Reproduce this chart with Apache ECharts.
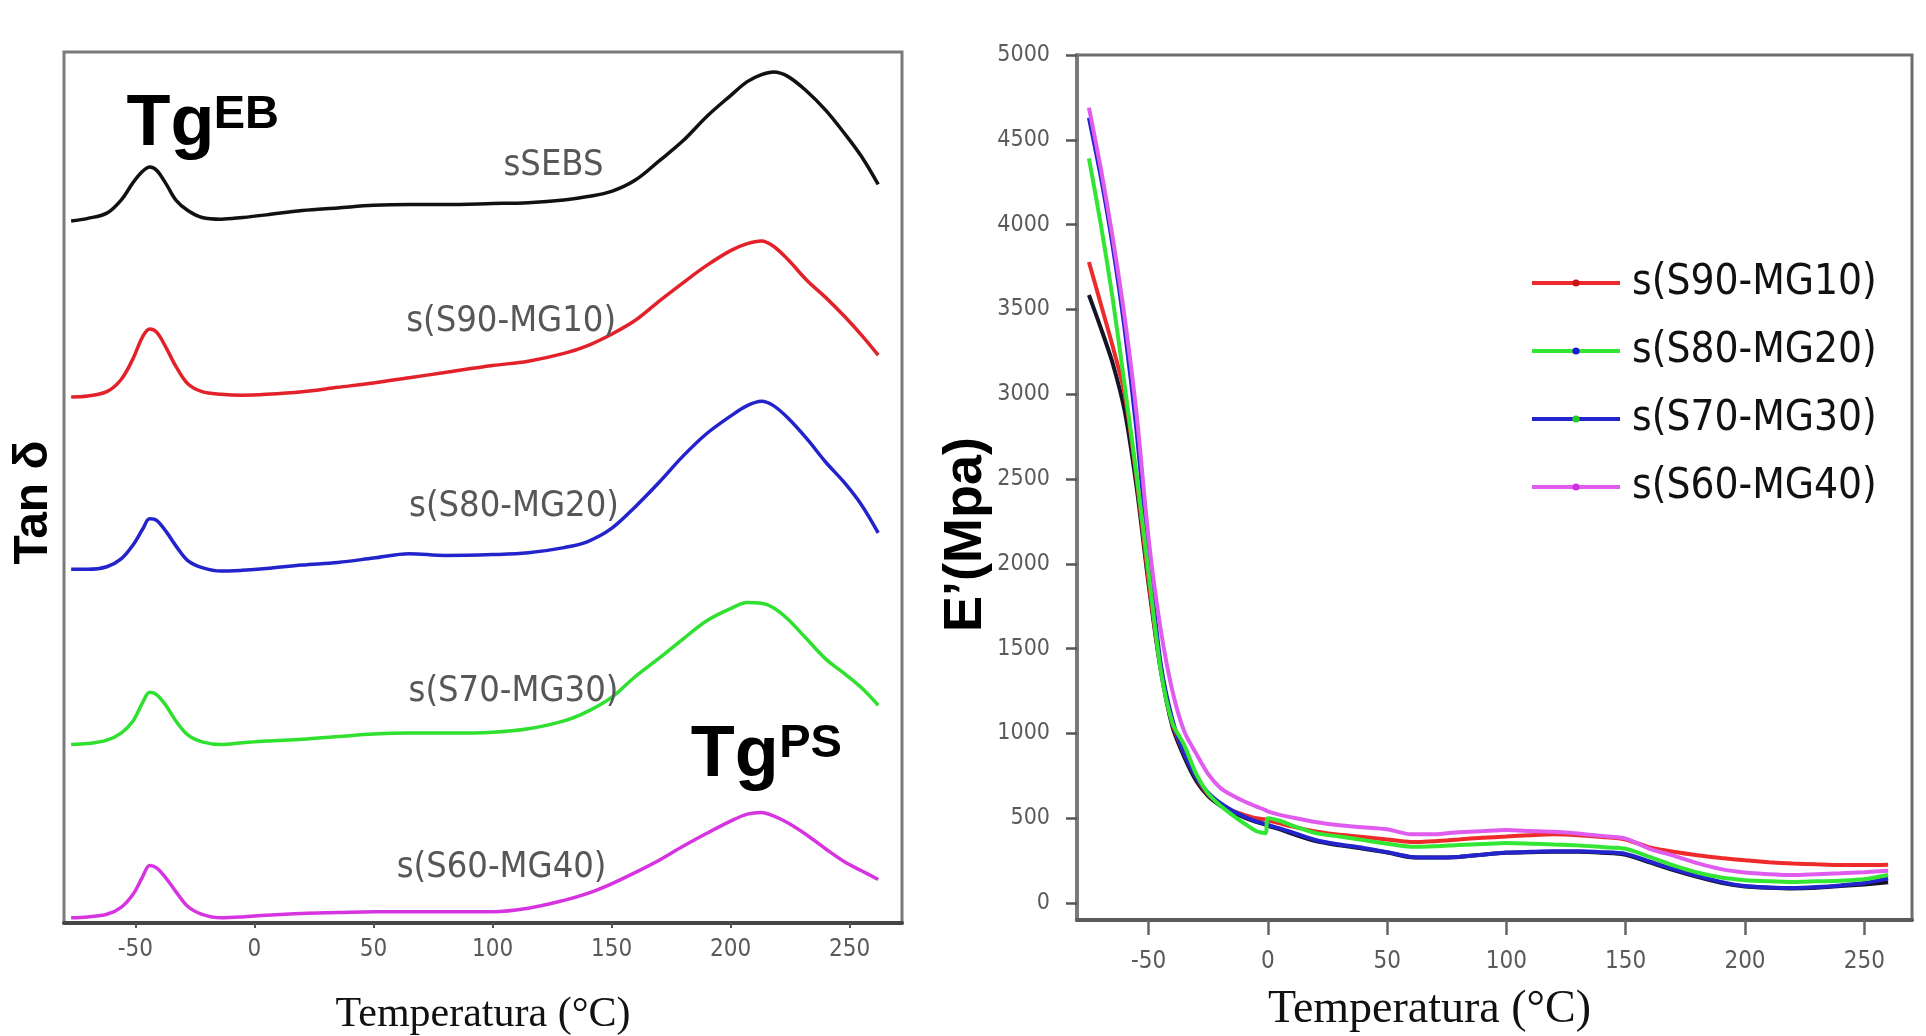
<!DOCTYPE html>
<html>
<head>
<meta charset="utf-8">
<title>Tan δ y E' frente a temperatura</title>
<script src="https://cdn.jsdelivr.net/npm/echarts@6/dist/echarts.min.js"></script>
<style>
  html, body { margin: 0; padding: 0; background: #ffffff; }
  #chart { width: 1926px; height: 1036px; }
</style>
</head>
<body>
<div id="chart"></div>
<script>
// ---------- Tan δ curves (left panel), each shifted up by its own offset ----------
const tanTemps = [-77, -70, -62, -56, -51, -47, -44, -41, -37, -33, -28, -22, -14, -5, 5, 20, 35, 50, 65, 80,
                  100, 115, 130, 140, 150, 160, 170, 180, 190, 200, 207, 213, 218, 224, 232, 240, 248, 255, 262];
const tanNames   = ['sSEBS', 's(S90-MG10)', 's(S80-MG20)', 's(S70-MG30)', 's(S60-MG40)'];
const tanOffsets = [80, 60, 40, 20, 0];
const tanSEBS = [0.6, 0.9, 1.5, 3.0, 5.0, 6.3, 6.8, 6.4, 4.8, 3.0, 1.8, 1.0, 0.8, 1.0, 1.3, 1.8, 2.1, 2.4, 2.5, 2.5,
                 2.6, 2.7, 3.0, 3.4, 4.0, 5.3, 7.5, 9.8, 12.6, 15.0, 16.6, 17.4, 17.7, 17.2, 15.5, 13.3, 10.6, 8.0, 4.8];
const tanS90 = [0.4, 0.5, 1.0, 2.4, 4.8, 7.3, 8.2, 7.8, 6.0, 3.9, 1.9, 1.0, 0.7, 0.6, 0.7, 1.0, 1.5, 2.0, 2.6, 3.2,
                4.0, 4.5, 5.4, 6.3, 7.6, 9.2, 11.4, 13.5, 15.5, 17.2, 18.0, 18.3, 17.7, 16.2, 13.8, 11.8, 9.6, 7.5, 5.2];
const tanS80 = [0.6, 0.6, 0.9, 1.8, 3.4, 5.2, 6.4, 6.2, 4.9, 3.3, 1.6, 0.8, 0.4, 0.5, 0.7, 1.1, 1.4, 1.9, 2.4, 2.2,
                2.3, 2.5, 3.1, 3.8, 5.3, 7.8, 10.6, 13.6, 16.2, 18.2, 19.4, 19.9, 19.4, 18.0, 15.6, 12.9, 10.5, 8.0, 4.8];
const tanS70 = [0.5, 0.6, 1.0, 1.8, 3.2, 5.3, 6.5, 6.2, 4.9, 3.2, 1.6, 0.8, 0.5, 0.7, 0.9, 1.1, 1.4, 1.7, 1.8, 1.8,
                1.9, 2.3, 3.2, 4.3, 5.9, 8.3, 10.4, 12.6, 14.7, 16.1, 16.8, 16.7, 16.2, 14.9, 12.6, 10.3, 8.6, 7.0, 5.0];
const tanS60 = [0.6, 0.7, 1.0, 1.8, 3.3, 5.3, 6.6, 6.3, 5.1, 3.6, 1.9, 1.0, 0.6, 0.7, 0.9, 1.1, 1.2, 1.3, 1.3, 1.3,
                1.3, 1.7, 2.6, 3.4, 4.5, 5.8, 7.2, 8.8, 10.3, 11.7, 12.5, 12.7, 12.3, 11.5, 10.1, 8.5, 7.0, 6.0, 5.0];
const tanValues = [tanSEBS, tanS90, tanS80, tanS70, tanS60];

// ---------- Storage modulus E' (right panel), MPa ----------
const modTemps = [-75, -70, -65, -60, -55, -50, -45, -40, -35, -30, -25, -20, -15, -10, -5, -1, 0, 5, 10, 20,
                  30, 40, 50, 60, 70, 80, 90, 100, 110, 120, 130, 140, 150, 160, 170, 180, 190, 200, 210, 220,
                  230, 240, 250, 260];
const modSEBS = [3585, 3390, 3180, 2900, 2450, 1880, 1380, 1040, 860, 720, 630, 575, 535, 505, 478, 462, 455, 435, 410, 365,
                 340, 320, 298, 270, 268, 272, 285, 296, 300, 302, 302, 296, 285, 240, 195, 155, 120, 98, 90, 86,
                 90, 100, 110, 122];
const modS90 = [3780, 3530, 3280, 3000, 2500, 1900, 1400, 1060, 880, 740, 640, 585, 545, 520, 500, 492, 488, 470, 452, 422,
                402, 389, 375, 360, 365, 375, 385, 392, 400, 405, 400, 390, 375, 328, 302, 282, 266, 252, 241, 233,
                228, 224, 224, 226];
const modS80 = [4390, 4000, 3560, 3050, 2520, 1950, 1380, 1060, 930, 760, 645, 575, 520, 470, 425, 412, 500, 485, 458, 412,
                392, 371, 350, 332, 335, 342, 348, 354, 350, 345, 340, 330, 320, 272, 222, 180, 150, 135, 128, 124,
                128, 132, 140, 165];
const modS70 = [4630, 4280, 3870, 3380, 2780, 2050, 1420, 1080, 880, 740, 650, 590, 545, 510, 482, 466, 460, 440, 418, 372,
                345, 325, 300, 272, 268, 272, 285, 298, 302, 305, 305, 300, 290, 245, 200, 160, 125, 100, 92, 88,
                94, 104, 118, 145];
const modS60 = [4690, 4330, 3920, 3450, 2880, 2150, 1620, 1250, 1010, 880, 760, 680, 635, 600, 570, 548, 540, 520, 505, 478,
                458, 447, 435, 405, 405, 418, 424, 430, 425, 420, 410, 395, 380, 320, 280, 235, 200, 180, 170, 165,
                170, 175, 182, 190];

// ---------- Tick labels ----------
const tempTicks = [-50, 0, 50, 100, 150, 200, 250];
const modTicks  = [0, 500, 1000, 1500, 2000, 2500, 3000, 3500, 4000, 4500, 5000];

// ---------- Styling ----------
const NARROW = "'Liberation Sans Narrow', 'Arial Narrow', 'DejaVu Sans Condensed', 'Liberation Sans', sans-serif";
const SANS   = "'Liberation Sans', Arial, sans-serif";
const SERIF  = "'Liberation Serif', 'Times New Roman', serif";
const tanColors = ['#111111', '#e3212a', '#2323cc', '#2fe02f', '#d634e0'];

// text anchors for the curve names and the Tg annotations (axis units)
const tanLabelAt = [[125.6, 86.9], [107.8, 69.0], [109, 47.8], [108.8, 26.6], [103.8, 6.3]];
const tgParts = [
  { text: 'Tg', at: [-35.3, 91.55], size: 72 },
  { text: 'EB', at: [-3.4, 92.75], size: 47 },
  { text: 'Tg', at: [201.7, 19.2], size: 72 },
  { text: 'PS', at: [233.6, 20.5], size: 47 }
];

const tanSeries = tanNames.map((name, i) => ({
  type: 'line',
  name: name,
  xAxisIndex: 0,
  yAxisIndex: 0,
  data: tanTemps.map((t, k) => [t, tanValues[i][k] + tanOffsets[i]]),
  symbol: 'none',
  smooth: 0.35,
  lineStyle: { color: tanColors[i], width: 3.5 },
  itemStyle: { color: tanColors[i] },
  z: 3,
  markPoint: {
    silent: true,
    symbol: 'circle',
    symbolSize: 0,
    label: {
      show: true, position: 'inside', formatter: name,
      fontFamily: NARROW, fontSize: 36, color: '#575757'
    },
    data: [{ coord: tanLabelAt[i] }].concat(
      i === 0 ? tgParts.map(p => ({
        coord: p.at,
        label: { formatter: p.text, fontFamily: SANS, fontWeight: 'bold', fontSize: p.size, color: '#000' }
      })) : [])
  }
}));

const modColors = { black: '#141426', red: '#ee2a2a', green: '#33e633', blue: '#2424cc', magenta: '#e05cee' };
function modSeries(name, values, color, z) {
  return {
    type: 'line',
    name: name,
    xAxisIndex: 1,
    yAxisIndex: 1,
    data: modTemps.map((t, k) => [t, values[k]]),
    symbol: 'none',
    smooth: 0.25,
    lineStyle: { color: color, width: 4 },
    itemStyle: { color: color },
    z: z
  };
}

const plain = v => String(v);

const option = {
  animation: false,
  backgroundColor: '#ffffff',
  grid: [
    { left: 64, top: 52, width: 838, height: 871, show: true, borderColor: '#7a7a7a', borderWidth: 3,
      backgroundColor: 'transparent', outerBoundsMode: 'none', containLabel: false },
    { left: 1077, top: 55, width: 835, height: 865, show: true, borderColor: '#6e6e6e', borderWidth: 3,
      backgroundColor: 'transparent', outerBoundsMode: 'none', containLabel: false }
  ],
  xAxis: [
    {
      type: 'value', gridIndex: 0, min: -80, max: 272,
      name: 'Temperatura (°C)', nameLocation: 'middle', nameGap: 71,
      nameTextStyle: { fontFamily: SERIF, fontSize: 42, color: '#111' },
      axisLine: { show: true, onZero: false, lineStyle: { color: '#454545', width: 4 } },
      axisTick: { show: true, customValues: tempTicks, length: 5, lineStyle: { color: '#555', width: 2 } },
      axisLabel: { show: true, customValues: tempTicks, formatter: plain, margin: 15,
                   fontFamily: NARROW, fontSize: 24, color: '#5a5a5a' },
      splitLine: { show: false }
    },
    {
      type: 'value', gridIndex: 1, min: -80, max: 270,
      name: 'Temperatura (°C)', nameLocation: 'middle', nameGap: 67,
      nameTextStyle: { fontFamily: SERIF, fontSize: 46, color: '#111', padding: [0, 130, 0, 0] },
      axisLine: { show: true, onZero: false, lineStyle: { color: '#5a5a5a', width: 4 } },
      axisTick: { show: true, customValues: tempTicks, length: 15, lineStyle: { color: '#666', width: 2.5 } },
      axisLabel: { show: true, customValues: tempTicks, formatter: plain, margin: 30,
                   fontFamily: NARROW, fontSize: 24, color: '#5a5a5a' },
      splitLine: { show: false }
    }
  ],
  yAxis: [
    {
      type: 'value', gridIndex: 0, min: 0, max: 100,
      name: 'Tan δ', nameLocation: 'middle', nameGap: 6, nameRotate: 90,
      nameTextStyle: { fontFamily: SANS, fontWeight: 'bold', fontSize: 48, color: '#000', padding: [0, 30, 0, 0] },
      axisLine: { show: false }, axisTick: { show: false }, axisLabel: { show: false }, splitLine: { show: false }
    },
    {
      type: 'value', gridIndex: 1, min: -100, max: 5000,
      name: 'E’(Mpa)', nameLocation: 'middle', nameGap: 75, nameRotate: 90,
      nameTextStyle: { fontFamily: SANS, fontWeight: 'bold', fontSize: 54, color: '#000', padding: [0, 94, 0, 0] },
      axisLine: { show: true, onZero: false, lineStyle: { color: '#7a7a7a', width: 4 } },
      axisTick: { show: true, customValues: modTicks, length: 11, lineStyle: { color: '#555', width: 2.5 } },
      axisLabel: { show: true, customValues: modTicks, formatter: plain, margin: 27,
                   fontFamily: NARROW, fontSize: 23, color: '#5a5a5a' },
      splitLine: { show: false }
    }
  ],
  legend: {
    data: [
      { name: 's(S90-MG10)', lineStyle: { color: modColors.red, width: 4 },     itemStyle: { color: '#c81414' } },
      { name: 's(S80-MG20)', lineStyle: { color: modColors.green, width: 4 },   itemStyle: { color: '#1c1cd8' } },
      { name: 's(S70-MG30)', lineStyle: { color: modColors.blue, width: 4 },    itemStyle: { color: '#22cc22' } },
      { name: 's(S60-MG40)', lineStyle: { color: modColors.magenta, width: 4 }, itemStyle: { color: '#d030e0' } }
    ],
    orient: 'vertical', left: 1525, top: 250,
    itemWidth: 88, itemHeight: 9, itemGap: 12,
    selectedMode: false,
    textStyle: { fontFamily: NARROW, fontSize: 42, color: '#111', lineHeight: 56, padding: [0, 0, 0, 7] }
  },
  series: tanSeries.concat([
    modSeries('sSEBS', modSEBS, modColors.black, 2),
    modSeries('s(S90-MG10)', modS90, modColors.red, 3),
    modSeries('s(S70-MG30)', modS70, modColors.blue, 4),
    modSeries('s(S80-MG20)', modS80, modColors.green, 5),
    modSeries('s(S60-MG40)', modS60, modColors.magenta, 6)
  ])
};

const chart = echarts.init(document.getElementById('chart'), null, { renderer: 'canvas' });
chart.setOption(option);
</script>
</body>
</html>
